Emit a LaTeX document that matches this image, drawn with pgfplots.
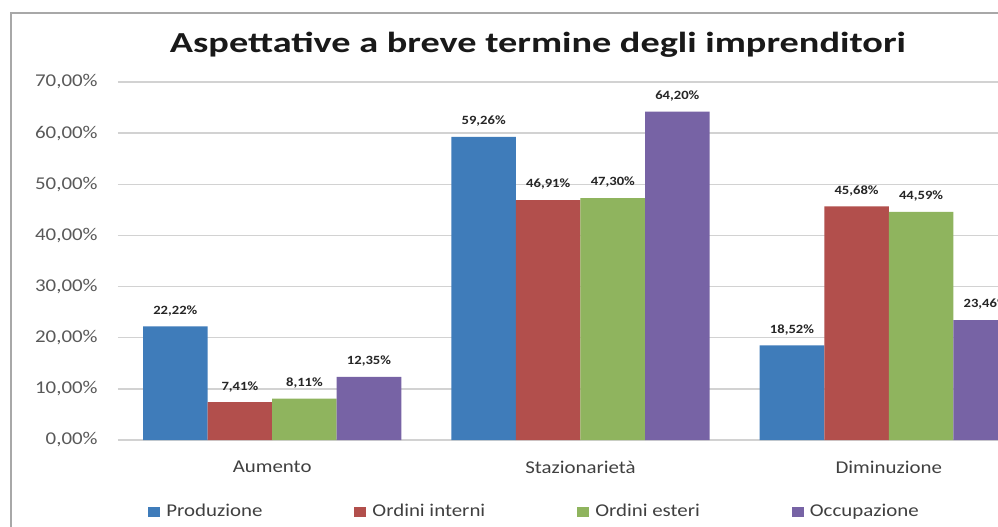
\documentclass[border=0pt]{standalone}
\usepackage{pgfplots}
\pgfplotsset{compat=1.18}
\usepackage{fontspec}
\setmainfont{Carlito}[FakeStretch=1.16]
\newfontfamily\titlefont{Carlito}[FakeStretch=1.32]
\definecolor{cblue}{HTML}{3F7CBA}
\definecolor{cred}{HTML}{B24F4C}
\definecolor{cgreen}{HTML}{8FB45E}
\definecolor{cpurple}{HTML}{7763A5}
\definecolor{gridc}{HTML}{D2D2D2}
\definecolor{framec}{HTML}{A8A8A8}
\begin{document}
\begin{tikzpicture}
\useasboundingbox (0,0) rectangle (499pt,263pt);
\clip (0,0) rectangle (499pt,263pt);
\fill[white] (0,0) rectangle (499pt,263pt);
\draw[framec, line width=1pt] (5.5pt,-20pt) -- (5.5pt,256.5pt) -- (560pt,256.5pt);
\node[anchor=base, font=\titlefont\fontsize{14.5}{17}\selectfont\bfseries, text=black!90] at (269pt,236.5pt) {Aspettative a breve termine degli imprenditori};
\begin{axis}[
  at={(59pt,43pt)}, anchor=south west,
  scale only axis, width=462.5pt, height=179pt,
  ybar=0pt, bar width=0.2094,
  xmin=-0.5, xmax=2.5, ymin=0, ymax=70,
  xtick={0,1,2}, xticklabels={Aumento,Stazionarietà,Diminuzione},
  ytick={0,10,20,30,40,50,60,70},
  /pgf/number format/assume math mode=true,
  yticklabel={\pgfmathprintnumber[fixed,fixed zerofill,precision=2,use comma]{\tick}\%},
  yticklabel style={font=\fontsize{9}{11}\selectfont, text=black!65, inner sep=0pt, anchor=east, xshift=-10pt},
  xticklabel style={font=\fontsize{9}{11}\selectfont, text=black!75, inner sep=0pt, anchor=center, yshift=-13.5pt},
  major tick length=0pt,
  axis line style={draw=none},
  ymajorgrids, grid style={color=gridc, line width=0.75pt},
  clip=false,
  nodes near coords={\pgfmathprintnumber[fixed,fixed zerofill,precision=2,use comma]{\pgfplotspointmeta}\%},
  nodes near coords style={font=\fontsize{6.3}{7}\selectfont\bfseries, text=black!85, inner sep=0pt, anchor=south, yshift=5pt},
  legend columns=4,
  legend style={at={(axis description cs:0.0324,-0.201)}, anchor=west, draw=none, fill=none,
    font=\fontsize{9}{11}\selectfont, text=black!75, inner sep=0pt,
    /tikz/every even column/.append style={column sep=44pt},
    /tikz/every odd column/.append style={column sep=1pt}},
  legend image code/.code={\fill[#1] (0pt,-2.5pt) rectangle (6pt,2.5pt);},
]
\addplot[fill=cblue, draw=none] coordinates {(0,22.22) (1,59.26) (2,18.52)};
\addplot[fill=cred, draw=none] coordinates {(0,7.41) (1,46.91) (2,45.68)};
\addplot[fill=cgreen, draw=none] coordinates {(0,8.11) (1,47.30) (2,44.59)};
\addplot[fill=cpurple, draw=none] coordinates {(0,12.35) (1,64.20) (2,23.46)};
\legend{Produzione,Ordini interni,Ordini esteri,Occupazione}
\end{axis}
\end{tikzpicture}
\end{document}
